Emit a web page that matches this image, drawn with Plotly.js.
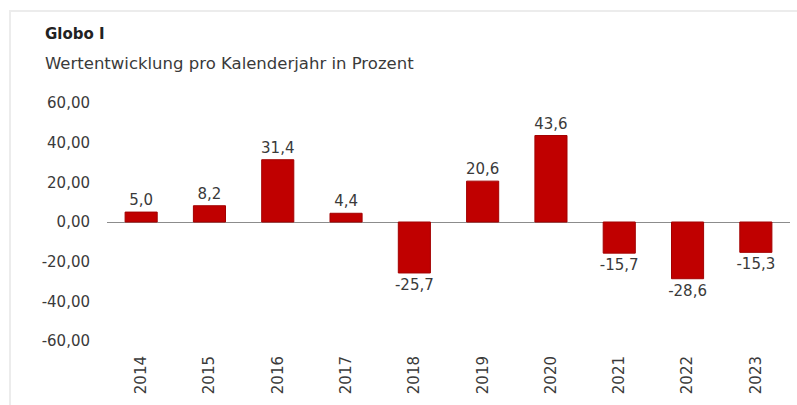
<!DOCTYPE html>
<html>
<head>
<meta charset="utf-8">
<script src="https://cdn.plot.ly/plotly-3.0.1.min.js"></script>
<style>
  html, body { margin: 0; padding: 0; background: #ffffff; }
  #wrap { position: relative; width: 797px; height: 405px; overflow: hidden; }
  #frame { position: absolute; left: 9px; top: 10px; width: 820px; height: 420px;
           border-left: 2px solid #ececec; border-top: 2px solid #ececec; }
  #chart { position: absolute; left: 0; top: 0; width: 797px; height: 405px; }
</style>
</head>
<body>
<div id="wrap">
  <div id="frame"></div>
  <div id="chart"></div>
</div>
<script>
const categories = ["2014", "2015", "2016", "2017", "2018", "2019", "2020", "2021", "2022", "2023"];
const values = [5.0, 8.2, 31.4, 4.4, -25.7, 20.6, 43.6, -15.7, -28.6, -15.3];
const yTicks = [-60, -40, -20, 0, 20, 40, 60];
const titleText = "Globo I";
const subtitleText = "Wertentwicklung pro Kalenderjahr in Prozent";

const FONT = "DejaVu Sans, sans-serif";
const TXT = "#3a3a3a";

const fmt = (v, d) => v.toFixed(d).replace(".", ",");

const trace = {
  type: "bar",
  x: categories,
  y: values,
  marker: { color: "#c00000", line: { color: "#a30000", width: 1 } },
  text: values.map(v => fmt(v, 1)),
  texttemplate: "%{text}",
  textposition: "outside",
  constraintext: "none",
  cliponaxis: false,
  textfont: { family: FONT, size: 15, color: TXT },
  hoverinfo: "none"
};

const layout = {
  width: 797,
  height: 405,
  paper_bgcolor: "rgba(0,0,0,0)",
  plot_bgcolor: "rgba(0,0,0,0)",
  separators: ",.",
  showlegend: false,
  bargap: 0.53,
  margin: { l: 107, r: 7, t: 103, b: 64 },
  font: { family: FONT, size: 15, color: TXT },
  xaxis: {
    type: "category",
    tickangle: -90,
    showgrid: false,
    showline: false,
    ticks: "",
    ticklen: 0,
    ticklabelstandoff: 11,
    tickfont: { family: FONT, size: 15, color: TXT },
    automargin: false
  },
  yaxis: {
    range: [-60, 60],
    tickvals: yTicks,
    ticktext: yTicks.map(v => fmt(v, 2)),
    showgrid: false,
    zeroline: true,
    zerolinecolor: "#8c8c8c",
    zerolinewidth: 1,
    showline: false,
    ticks: "",
    ticklabelstandoff: 16,
    tickfont: { family: FONT, size: 15, color: TXT },
    automargin: false
  },
  annotations: [
    { text: "<b>" + titleText + "</b>", xref: "paper", yref: "paper", x: -0.094, y: 1.29,
      xanchor: "left", yanchor: "middle", showarrow: false,
      font: { family: FONT, size: 15, color: "#222222" } },
    { text: subtitleText, xref: "paper", yref: "paper", x: -0.094, y: 1.168,
      xanchor: "left", yanchor: "middle", showarrow: false,
      font: { family: FONT, size: 16.5, color: TXT } }
  ]
};

Plotly.newPlot("chart", [trace], layout, { displayModeBar: false, staticPlot: true });
</script>
</body>
</html>
